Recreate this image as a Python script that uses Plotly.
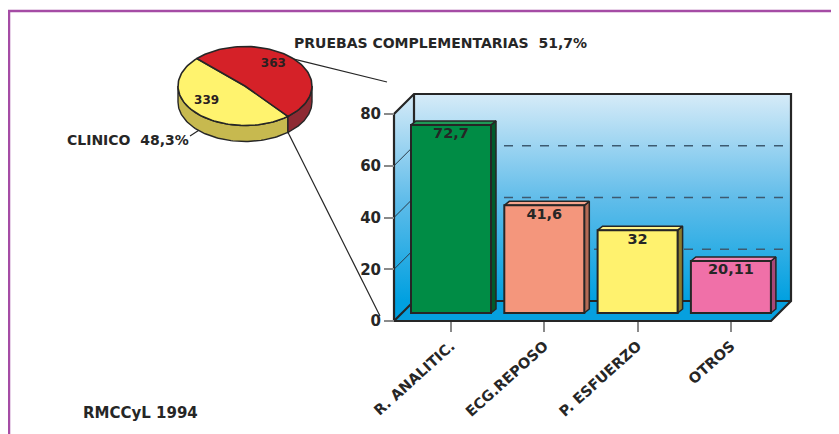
import math
import plotly.graph_objects as go

# ---------------- data ----------------
categories = ["R. ANALITIC.", "ECG.REPOSO", "P. ESFUERZO", "OTROS"]
bar_values = [72.7, 41.6, 32, 20.11]
y_ticks = [0, 20, 40, 60, 80]

pie_labels = ["CLINICO", "PRUEBAS COMPLEMENTARIAS"]
pie_values = [339, 363]

footer = "RMCCyL 1994"

# ---------------- styles ----------------
bar_colors = ["#008c45", "#f4967c", "#fff26e", "#f070a8"]
bar_top_colors = ["#1f9a57", "#f6a58e", "#fff48a", "#f389b7"]
bar_side_colors = ["#005a2c", "#b46a55", "#8c7c2c", "#a84878"]
pie_colors = ["#fff36e", "#d52128"]
pie_side_colors = ["#c7b94f", "#8e2a33"]
INK = "#262626"
FONT = "DejaVu Sans"

# window size and page offset (default body margin of the html page)
WIN_W, WIN_H = 839, 434
OFF = 8
W, H = WIN_W - OFF, WIN_H - OFF

# layout anchors (window pixel space)
X0PX, Y0PX = 451, 321
PXU = 93.3
PYU = (321 - 114) / 80


def dx(px):
    return (px - X0PX) / PXU


def dy(py):
    return (Y0PX - py) / PYU


def paper_x(px):
    return (px - OFF) / W


def paper_y(py):
    return (WIN_H - py) / H


def fmt(v):
    return f"{v:g}".replace(".", ",")


XF, XR = dx(394), dx(771)
DXD, DYD = 20 / PXU, 20 / PYU
TOP = y_ticks[-1]
BASE = 8 / PYU
BW = 80 / PXU
BDX, BDY = 5 / PXU, 4 / PYU
LABEL_GAP = 2.5 / PYU

fig = go.Figure()

grad = dict(type="vertical",
            colorscale=[[0, "#00a0e0"], [0.5, "#62bdea"], [1, "#d6ebf8"]],
            start=DYD, stop=TOP + DYD)

# back wall
fig.add_trace(go.Scatter(
    x=[XF + DXD, XR + DXD, XR + DXD, XF + DXD, XF + DXD],
    y=[DYD, DYD, TOP + DYD, TOP + DYD, DYD],
    mode="lines", fill="toself", fillgradient=grad,
    line=dict(width=0), hoverinfo="skip", showlegend=False, zorder=0))
# side wall
fig.add_trace(go.Scatter(
    x=[XF, XF + DXD, XF + DXD, XF, XF],
    y=[0, DYD, TOP + DYD, TOP, 0],
    mode="lines", fill="toself", fillgradient=grad,
    line=dict(width=0), hoverinfo="skip", showlegend=False, zorder=0))
# floor
fig.add_trace(go.Scatter(
    x=[XF, XR, XR + DXD, XF + DXD, XF],
    y=[0, 0, DYD, DYD, 0],
    mode="lines", fill="toself", fillcolor="#06a0df",
    line=dict(width=0), hoverinfo="skip", showlegend=False, zorder=0))

# dashed grid on back wall
gx, gy = [], []
for v in y_ticks[1:-1]:
    gx += [XF + DXD, XR + DXD, None]
    gy += [v + DYD, v + DYD, None]
fig.add_trace(go.Scatter(x=gx, y=gy, mode="lines",
                         line=dict(color="#3d5a70", width=1.4, dash="dash"),
                         hoverinfo="skip", showlegend=False, zorder=0))
# side wall tick diagonals
sx, sy = [], []
for v in y_ticks[1:-1]:
    sx += [XF, XF + DXD, None]
    sy += [v, v + DYD, None]
fig.add_trace(go.Scatter(x=sx, y=sy, mode="lines",
                         line=dict(color="#2a3a48", width=1),
                         hoverinfo="skip", showlegend=False, zorder=0))

# frame edges
fx = [XF, XF, XF + DXD, XR + DXD, XR + DXD, XR, XF, None,
      XF, XF + DXD, XR + DXD, None, XF + DXD, XF + DXD]
fy = [0, TOP, TOP + DYD, TOP + DYD, DYD, 0, 0, None,
      0, DYD, DYD, None, DYD, TOP + DYD]
fig.add_trace(go.Scatter(x=fx, y=fy, mode="lines",
                         line=dict(color=INK, width=2.2),
                         hoverinfo="skip", showlegend=False, zorder=0))

# bar 3D faces
for i, v in enumerate(bar_values):
    l, r = i - BW / 2, i + BW / 2
    b, t = BASE, BASE + v
    fig.add_trace(go.Scatter(
        x=[r, r + BDX, r + BDX, r, r], y=[b, b + BDY, t + BDY, t, b],
        mode="lines", fill="toself", fillcolor=bar_side_colors[i],
        line=dict(color=INK, width=1.5), hoverinfo="skip",
        showlegend=False, zorder=1))
    fig.add_trace(go.Scatter(
        x=[l, l + BDX, r + BDX, r, l], y=[t, t + BDY, t + BDY, t, t],
        mode="lines", fill="toself", fillcolor=bar_top_colors[i],
        line=dict(color=INK, width=1.5), hoverinfo="skip",
        showlegend=False, zorder=1))

fig.add_trace(go.Bar(
    x=list(range(len(categories))), y=bar_values, base=BASE, width=BW,
    marker=dict(color=bar_colors, line=dict(color=INK, width=2)),
    hoverinfo="skip", showlegend=False, zorder=2))

# value labels just below the top of each bar
fig.add_trace(go.Scatter(
    x=list(range(len(categories))),
    y=[BASE + v - LABEL_GAP for v in bar_values],
    mode="text", text=[fmt(v) for v in bar_values],
    textposition="bottom center",
    textfont=dict(family=FONT, size=14.5, color=INK, weight="bold"),
    hoverinfo="skip", showlegend=False, zorder=4))

# ---------------- pie (ellipse, computed from values) ----------------
CX, CY, RX, RY, DEPTH = 245, 86, 67, 39.5, 16
START = 136.0
LBL_DX, LBL_DY = -5, -3.5
total = sum(pie_values)
spans = [360.0 * v / total for v in pie_values]
angles = [START, START + spans[0], START + spans[0] + spans[1]]


def ept(t, off=0.0, f=1.0):
    a = math.radians(t)
    return CX + f * RX * math.cos(a), CY - f * RY * math.sin(a) + off


def arc(a0, a1, off=0.0, n=80):
    return [ept(a0 + (a1 - a0) * k / n, off) for k in range(n + 1)]


# side faces (front half only: 180..360 in parametric angle)
for i in range(2):
    a0, a1 = angles[i], angles[i + 1]
    for lo, hi in [(180, 360), (540, 720)]:
        s, e = max(a0, lo), min(a1, hi)
        if e <= s:
            continue
        pts = arc(s, e) + arc(e, s, DEPTH)
        pts.append(pts[0])
        fig.add_trace(go.Scatter(
            x=[dx(p[0]) for p in pts], y=[dy(p[1]) for p in pts],
            mode="lines", fill="toself", fillcolor=pie_side_colors[i],
            line=dict(color=INK, width=1.4), hoverinfo="skip",
            showlegend=False, zorder=3))

for i in range(2):
    a0, a1 = angles[i], angles[i + 1]
    pts = [(CX, CY)] + arc(a0, a1) + [(CX, CY)]
    fig.add_trace(go.Scatter(
        x=[dx(p[0]) for p in pts], y=[dy(p[1]) for p in pts],
        mode="lines", fill="toself", fillcolor=pie_colors[i],
        line=dict(color=INK, width=1.6), hoverinfo="skip",
        showlegend=False, zorder=3))

# slice value labels
lx, ly = [], []
for i in range(2):
    mid = angles[i] + spans[i] / 2
    p = ept(mid, f=0.68)
    lx.append(dx(p[0] + LBL_DX))
    ly.append(dy(p[1] + LBL_DY))
fig.add_trace(go.Scatter(
    x=lx, y=ly, mode="text", text=[str(v) for v in pie_values],
    textfont=dict(family=FONT, size=12, color="#2a2020", weight="bold"),
    hoverinfo="skip", showlegend=False, zorder=4))

# callout lines from pie to bar chart
p1 = ept(43)
p2 = ept(angles[1], DEPTH)
p3 = ept(226, DEPTH)
cx_ = [dx(p1[0]), dx(387), None, dx(p2[0]), dx(380), None, dx(p3[0]), dx(190)]
cy_ = [dy(p1[1]), dy(82), None, dy(p2[1]), dy(316), None, dy(p3[1]), dy(136)]
fig.add_trace(go.Scatter(x=cx_, y=cy_, mode="lines",
                         line=dict(color=INK, width=1.2),
                         hoverinfo="skip", showlegend=False, zorder=3))

pcts = [f"{100 * v / total:.1f}".replace(".", ",") + "%" for v in pie_values]
tfont = dict(family=FONT, size=14, color=INK, weight="bold")
annotations = [
    dict(x=paper_x(292), y=paper_y(43), xref="paper", yref="paper",
         text=f"{pie_labels[1]}&nbsp;&nbsp;{pcts[1]}", showarrow=False,
         xanchor="left", yanchor="middle", font=tfont),
    dict(x=paper_x(191), y=paper_y(140), xref="paper", yref="paper",
         text=f"{pie_labels[0]}&nbsp;&nbsp;{pcts[0]}", showarrow=False,
         xanchor="right", yanchor="middle", font=tfont),
    dict(x=paper_x(81), y=paper_y(413), xref="paper", yref="paper",
         text=footer, showarrow=False,
         xanchor="left", yanchor="middle", font=dict(tfont, size=15)),
]

fig.update_layout(
    width=W, height=H, margin=dict(l=0, r=0, t=0, b=0),
    paper_bgcolor="white", plot_bgcolor="rgba(0,0,0,0)",
    showlegend=False, annotations=annotations,
    xaxis=dict(range=[dx(OFF), dx(WIN_W)], domain=[0, 1],
               tickvals=list(range(len(categories))), ticktext=categories,
               tickangle=-42, ticks="outside", ticklen=10, tickwidth=1.5,
               tickcolor="#8a8a8a", showgrid=False, zeroline=False,
               showline=False, anchor="free", position=paper_y(Y0PX),
               tickfont=dict(family=FONT, size=14.5, color=INK, weight="bold"),
               fixedrange=True),
    yaxis=dict(range=[dy(WIN_H), dy(OFF)], domain=[0, 1],
               tickvals=y_ticks, ticks="outside", ticklen=10, tickwidth=1.5,
               tickcolor="#8a8a8a", showgrid=False, zeroline=False,
               showline=False, anchor="free", position=paper_x(394),
               tickfont=dict(family=FONT, size=15, color=INK, weight="bold"),
               fixedrange=True),
    shapes=[dict(type="rect", xref="paper", yref="paper",
                 x0=paper_x(9), x1=1.05, y0=-0.05, y1=paper_y(11),
                 line=dict(color="#a54ca5", width=2.5),
                 fillcolor="rgba(0,0,0,0)")],
)

fig.write_html("out.html")
